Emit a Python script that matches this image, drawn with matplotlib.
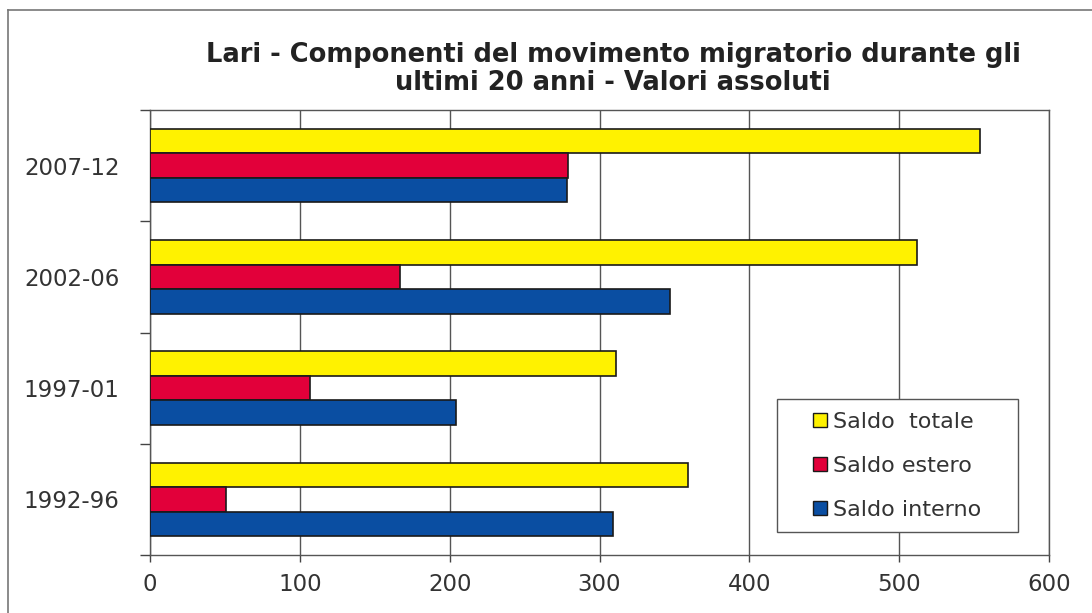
import numpy as np
import matplotlib
matplotlib.use("Agg")
import matplotlib.pyplot as plt
from matplotlib.lines import Line2D
from matplotlib.patches import Patch, Rectangle

# data (bottom to top)
periods = ["1992-96", "1997-01", "2002-06", "2007-12"]
saldo_totale = [359, 311, 512, 554]
saldo_estero = [51, 107, 167, 279]
saldo_interno = [309, 204, 347, 278]
x_ticks = [0, 100, 200, 300, 400, 500, 600]

plt.rcParams['font.family'] = ['DejaVu Sans']

yellow = "#FFF200"
red = "#E2003A"
blue = "#0A4EA2"
edge = "#1a1a1a"
txt = "#333333"

fig = plt.figure(figsize=(10.92, 6.13), dpi=100)
ax = fig.add_axes([150 / 1092, 58 / 613, 899 / 1092, 445 / 613])

y = np.arange(len(periods))
h = 0.22
ax.barh(y + h, saldo_totale, height=h, color=yellow, edgecolor=edge, linewidth=1.2, zorder=3)
ax.barh(y, saldo_estero, height=h, color=red, edgecolor=edge, linewidth=1.2, zorder=3)
ax.barh(y - h, saldo_interno, height=h, color=blue, edgecolor=edge, linewidth=1.2, zorder=3)

ax.set_xlim(0, 600)
ax.set_ylim(-0.5, len(periods) - 0.5)
ax.set_xticks(x_ticks)
ax.set_xticklabels([str(v) for v in x_ticks], fontsize=16.5, color=txt)
ax.set_yticks(y)
ax.set_yticklabels(periods, fontsize=16.5, color=txt)
ax.set_yticks(np.arange(-0.5, len(periods)), minor=True)
ax.tick_params(axis='y', which='major', length=0, pad=22)
ax.tick_params(axis='y', which='minor', length=7, width=1, color="#444444", direction='out')
ax.tick_params(axis='x', which='major', length=5, width=1, color="#444444", direction='out', pad=8)

ax.grid(axis='x', color="#555555", linewidth=1, zorder=0)
for s in ax.spines.values():
    s.set_color("#555555")
    s.set_linewidth(1)

# two title lines, placed by baseline
fig.text(613 / 1092, 1 - 62 / 613, "Lari - Componenti del movimento migratorio durante gli",
         ha='center', va='baseline', fontsize=18.5, fontweight='bold', color="#222222")
fig.text(613 / 1092, 1 - 90 / 613, "ultimi 20 anni - Valori assoluti",
         ha='center', va='baseline', fontsize=18.5, fontweight='bold', color="#222222")

# legend box drawn separately, entries centred in it
box = Rectangle((627 / 899, 23 / 445), 241 / 899, 133 / 445, transform=ax.transAxes,
                facecolor='white', edgecolor="#555555", linewidth=1, zorder=4)
ax.add_patch(box)
handles = [Patch(facecolor=yellow, edgecolor=edge, label="Saldo  totale"),
           Patch(facecolor=red, edgecolor=edge, label="Saldo estero"),
           Patch(facecolor=blue, edgecolor=edge, label="Saldo interno")]
leg = ax.legend(handles=handles, loc='center', bbox_to_anchor=((627 + 120.5) / 899, (23 + 66.5) / 445),
                fontsize=16, frameon=False, handlelength=0.6, handleheight=0.6,
                handletextpad=0.3, labelspacing=1.08, borderpad=0, borderaxespad=0)
leg.set_zorder(5)
for t in leg.get_texts():
    t.set_color(txt)

# outer chart frame (left and top edges visible in the scan)
fig.add_artist(Line2D([8 / 1092, 8 / 1092], [0, 1 - 10 / 613], transform=fig.transFigure, color="#777777", linewidth=1.2))
fig.add_artist(Line2D([8 / 1092, 1], [1 - 10 / 613, 1 - 10 / 613], transform=fig.transFigure, color="#777777", linewidth=1.2))

fig.savefig("out.png", dpi=100)
